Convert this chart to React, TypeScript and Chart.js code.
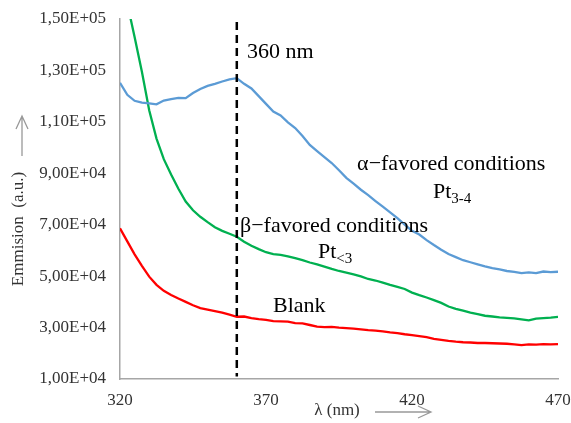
import { useEffect, useRef } from 'react';
import { Chart, registerables } from 'chart.js';

Chart.register(...registerables);

const wavelengths = [
  320, 322.5, 325, 327.5, 330, 332.5, 335, 337.5, 340, 342.5,
  345, 347.5, 350, 352.5, 355, 357.5, 360, 362.5, 365, 367.5,
  370, 372.5, 375, 377.5, 380, 382.5, 385, 387.5, 390, 392.5,
  395, 397.5, 400, 402.5, 405, 407.5, 410, 412.5, 415, 417.5,
  420, 422.5, 425, 427.5, 430, 432.5, 435, 437.5, 440, 442.5,
  445, 447.5, 450, 452.5, 455, 457.5, 460, 462.5, 465, 467.5, 470,
];

const alphaFavored = [
  125200, 120500, 118200, 117500, 117200, 116800, 118300, 118800, 119300, 119200,
  121200, 122800, 124000, 124800, 125700, 126500, 127000, 124800, 123000, 120000,
  117000, 114000, 112500, 109800, 107600, 104500, 101000, 98600, 96300, 94000,
  91200, 88200, 86000, 83600, 81500, 79200, 77000, 74800, 72600, 70000,
  67600, 66200, 64000, 62100, 60300, 58600, 57400, 56200, 55400, 54600,
  53800, 53100, 52600, 52000, 51700, 51200, 51500, 51200, 51800, 51600, 51700,
];

const betaFavored = [
  170000, 156000, 143000, 129500, 114500, 103500, 95500, 89500, 84000, 79000,
  75600, 73100, 71000, 69000, 67600, 66500, 65300, 63400, 61800, 60500,
  59300, 58600, 58300, 57700, 57000, 56200, 55300, 54600, 53700, 52800,
  52000, 51400, 50700, 49900, 48900, 48300, 47500, 46600, 45800, 45000,
  43600, 42600, 41700, 40700, 39600, 38200, 37300, 36600, 35800, 35200,
  34600, 34300, 34000, 33800, 33600, 33200, 32800, 33500, 33700, 33900, 34200,
];

const blank = [
  68600, 63500, 58500, 54000, 49800, 46600, 44300, 42700, 41300, 40000,
  38700, 37600, 37000, 36400, 35800, 35000, 34200, 34300, 33700, 33300,
  33000, 32500, 32400, 32300, 31700, 31600, 31000, 30400, 30200, 30300,
  30000, 29800, 29600, 29300, 29000, 28800, 28500, 28100, 27800, 27400,
  27100, 26700, 26300, 25600, 25200, 24800, 24500, 24300, 24200, 24000,
  24000, 23900, 23800, 23700, 23500, 23200, 23500, 23400, 23600, 23500, 23600,
];

const markerX = [360, 360];
const markerY = [148800, 11000];

const yTickValues = [10000, 30000, 50000, 70000, 90000, 110000, 130000, 150000];
const yTickLabels = ['1,00E+04', '3,00E+04', '5,00E+04', '7,00E+04', '9,00E+04', '1,10E+05', '1,30E+05', '1,50E+05'];
const xTickValues = [320, 370, 420, 470];

const SERIF = '"Liberation Serif", "Times New Roman", serif';

const annotationPlugin = {
  id: 'annotations',
  afterDraw(chart: any) {
    const ctx = chart.ctx;
    const xs = chart.scales.x;
    const ys = chart.scales.y;
    const px = (v: number) => xs.getPixelForValue(v);
    const py = (v: number) => ys.getPixelForValue(v);
    ctx.save();
    ctx.fillStyle = '#000';
    ctx.textBaseline = 'alphabetic';
    ctx.textAlign = 'left';
    const big = `22px ${SERIF}`;
    const sub = `15px ${SERIF}`;
    ctx.font = big;
    ctx.fillText('360 nm', px(363.5), py(134800));
    ctx.fillText('\u03b1\u2212favored conditions', px(401.2), py(91300));
    ctx.fillText('\u03b2\u2212favored conditions', px(361.1), py(67200));
    ctx.fillText('Blank', px(372.4), py(36100));
    // Pt3-4
    let x0 = px(427.2);
    let y0 = py(80400);
    ctx.font = big;
    ctx.fillText('Pt', x0, y0);
    let w = ctx.measureText('Pt').width;
    ctx.font = sub;
    ctx.fillText('3-4', x0 + w, y0 + 5);
    // Pt<3
    x0 = px(387.8);
    y0 = py(57100);
    ctx.font = big;
    ctx.fillText('Pt', x0, y0);
    w = ctx.measureText('Pt').width;
    ctx.font = sub;
    ctx.fillText('<3', x0 + w, y0 + 5);

    // Axis titles
    ctx.fillStyle = '#333';
    ctx.font = `17px ${SERIF}`;
    ctx.textAlign = 'center';
    ctx.textBaseline = 'middle';
    ctx.fillText('\u03bb (nm)', 337, 411);
    ctx.save();
    ctx.translate(19, 229);
    ctx.rotate(-Math.PI / 2);
    ctx.fillText('Emmision  (a.u.)', 0, 0);
    ctx.restore();

    // arrows
    ctx.strokeStyle = '#999';
    ctx.lineWidth = 1.3;
    ctx.beginPath();
    ctx.moveTo(375, 412);
    ctx.lineTo(431, 412);
    ctx.moveTo(418, 406);
    ctx.lineTo(431, 412);
    ctx.lineTo(418, 418);
    ctx.moveTo(22, 156);
    ctx.lineTo(22, 116);
    ctx.moveTo(16, 129);
    ctx.lineTo(22, 116);
    ctx.lineTo(28, 129);
    ctx.stroke();
    ctx.restore();
  },
};

export default function App() {
  const canvasRef = useRef<HTMLCanvasElement | null>(null);

  useEffect(() => {
    const canvas = canvasRef.current;
    if (!canvas) return;
    const toPts = (ys: number[]) => ys.map((y, i) => ({ x: wavelengths[i], y }));
    const chart = new Chart(canvas, {
      type: 'line',
      data: {
        datasets: [
          {
            label: 'marker',
            data: markerX.map((x, i) => ({ x, y: markerY[i] })),
            borderColor: '#000',
            borderWidth: 2.5,
            borderDash: [8, 5],
            pointRadius: 0,
          },
          {
            label: 'alpha',
            data: toPts(alphaFavored),
            borderColor: '#5b9bd5',
            borderWidth: 2.3,
            pointRadius: 0,
          },
          {
            label: 'beta',
            data: toPts(betaFavored),
            borderColor: '#00b050',
            borderWidth: 2.3,
            pointRadius: 0,
          },
          {
            label: 'blank',
            data: toPts(blank),
            borderColor: '#ff0000',
            borderWidth: 2.3,
            pointRadius: 0,
          },
        ],
      },
      options: {
        responsive: false,
        animation: false,
        layout: { padding: { top: 19, right: 13, left: 0, bottom: 0 } },
        plugins: { legend: { display: false }, tooltip: { enabled: false } },
        scales: {
          x: {
            type: 'linear',
            min: 320,
            max: 470,
            grid: { display: false, drawTicks: false },
            border: { display: true, color: '#a6a6a6', width: 1.5 },
            afterBuildTicks: (scale: any) => {
              scale.ticks = xTickValues.map((v) => ({ value: v }));
            },
            afterFit: (scale: any) => {
              scale.height = 44;
              scale.paddingLeft = 0;
              scale.paddingRight = 0;
            },
            ticks: {
              padding: 11,
              color: '#333',
              font: { family: SERIF, size: 17 },
              maxRotation: 0,
              callback: (v: any) => String(v),
            },
          },
          y: {
            type: 'linear',
            min: 10000,
            max: 150000,
            grid: { display: false, drawTicks: false },
            border: { display: true, color: '#a6a6a6', width: 1.5 },
            afterBuildTicks: (scale: any) => {
              scale.ticks = yTickValues.map((v) => ({ value: v }));
            },
            afterFit: (scale: any) => {
              scale.width = 120;
              scale.paddingTop = 0;
              scale.paddingBottom = 0;
            },
            ticks: {
              padding: 14,
              color: '#333',
              font: { family: SERIF, size: 17 },
              callback: (v: any) => {
                const i = yTickValues.indexOf(Number(v));
                return i >= 0 ? yTickLabels[i] : '';
              },
            },
          },
        },
      },
      plugins: [annotationPlugin],
    });
    return () => chart.destroy();
  }, []);

  return (
    <div style={{ position: 'fixed', left: 0, top: 0, width: 571, height: 423, background: '#fff' }}>
      <canvas ref={canvasRef} width={571} height={423} style={{ width: 571, height: 423 }} />
    </div>
  );
}
